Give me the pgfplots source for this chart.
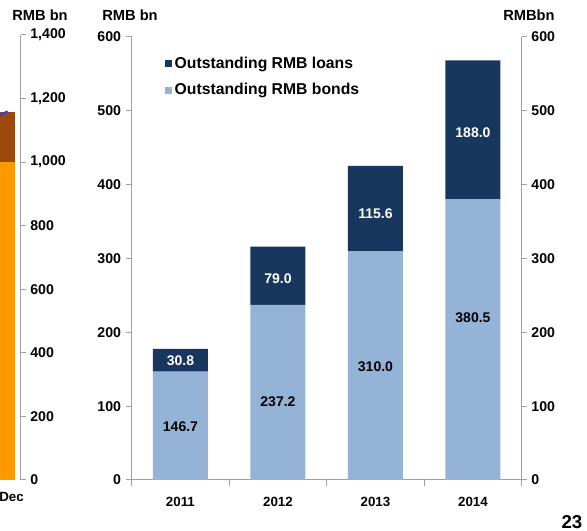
\documentclass[border=0pt]{standalone}
\usepackage{fontspec}
\setmainfont{Liberation Sans}
\usepackage{pgfplots}
\pgfplotsset{compat=1.18}
\definecolor{loan}{HTML}{17375E}
\definecolor{bond}{HTML}{95B3D7}
\definecolor{axgray}{HTML}{A0A0A0}
\definecolor{orng}{HTML}{FF9900}
\definecolor{brwn}{HTML}{9C4A0C}
\definecolor{lineblue}{HTML}{2A3FE0}
\pgfplotsset{
  common/.style={
    scale only axis,
    /pgf/number format/assume math mode=true,
    tick label style={font=\bfseries\fontsize{10}{12}\selectfont, text=black},
    y tick label style={font=\bfseries\fontsize{10.6}{12}\selectfont},
    axis line style={draw=axgray, line width=0.75pt},
    every tick/.style={draw=axgray, line width=0.75pt},
    tick align=outside,
    major tick length=3.75pt,
  },
}
\tikzset{dlab/.style={font=\bfseries\fontsize{10.5}{12}\selectfont}}
\begin{document}
\begin{tikzpicture}
\useasboundingbox (0,0) rectangle (440.25pt,398.25pt);
% partial chart on the left
\begin{axis}[common, at={(0pt,38.25pt)}, anchor=south west,
  width=15.5pt, height=333.75pt,
  xmin=-0.3, xmax=0.52, ymin=0, ymax=1400,
  ytick={0,200,...,1400},
  axis y line*=right, axis x line*=bottom,
  x axis line style={draw=none},
  xtick=\empty, extra x ticks={0}, extra x tick labels={Dec},
  extra x tick style={major tick length=0pt,
    tick label style={xshift=3pt, yshift=-6pt}},
  /pgf/number format/1000 sep={,},
]
\addplot[ybar, bar width=0.6, bar shift=0pt, fill=brwn, draw=none] coordinates {(0,1158)};
\addplot[ybar, bar width=0.6, bar shift=0pt, fill=orng, draw=none] coordinates {(0,1000)};
\addplot[lineblue, line width=1.5pt, no marks] coordinates {(-1,1120) (0,1160)};
\end{axis}
% main chart
\begin{axis}[common, at={(98.78pt,38.25pt)}, anchor=south west,
  width=292.5pt, height=332.25pt,
  ybar stacked, bar width=0.564,
  xmin=-0.5, xmax=3.5, ymin=0, ymax=600, ytick={0,100,...,600},
  axis y line*=left, axis x line*=bottom,
  xtick={-0.5,0.5,1.5,2.5,3.5}, xticklabels={2011,2012,2013,2014,{}},
  x tick label style={xshift=36.56pt, yshift=-4.5pt},
  major tick length=4.5pt,
  legend cell align=left,
  legend style={at={(0.085,0.962)}, anchor=north west, draw=none, fill=none,
    font=\bfseries\fontsize{11.8}{13}\selectfont, row sep=6pt, inner sep=0pt,
    nodes={inner xsep=2pt}},
  legend image code/.code={\fill[#1] (0pt,-2.6pt) rectangle (5.2pt,2.6pt);},
]
\addplot[fill=bond, draw=none, forget plot] coordinates {(0,146.7) (1,237.2) (2,310.0) (3,380.5)};
\addplot[fill=loan, draw=none, forget plot] coordinates {(0,30.8) (1,79.0) (2,115.6) (3,188.0)};
\addlegendimage{fill=loan, draw=none}
\addlegendentry{Outstanding RMB loans}
\addlegendimage{fill=bond, draw=none}
\addlegendentry{Outstanding RMB bonds}
\end{axis}
% right axis, with the value labels
\begin{axis}[common, at={(98.78pt,38.25pt)}, anchor=south west,
  width=292.5pt, height=332.25pt,
  xmin=-0.5, xmax=3.5, ymin=0, ymax=600, ytick={0,100,...,600},
  axis y line*=right, axis x line=none,
]
\addplot[draw=none] coordinates {(0,0)};
\node[dlab, text=black] at (axis cs:0,72) {146.7};
\node[dlab, text=white] at (axis cs:0,161.6) {30.8};
\node[dlab, text=black] at (axis cs:1,106.5) {237.2};
\node[dlab, text=white] at (axis cs:1,273) {79.0};
\node[dlab, text=black] at (axis cs:2,153) {310.0};
\node[dlab, text=white] at (axis cs:2,361) {115.6};
\node[dlab, text=black] at (axis cs:3,219.5) {380.5};
\node[dlab, text=white] at (axis cs:3,470) {188.0};
\end{axis}
\node[font=\bfseries\fontsize{11}{13}\selectfont] at (30pt,387pt) {RMB bn};
\node[font=\bfseries\fontsize{11}{13}\selectfont] at (97.5pt,387pt) {RMB bn};
\node[font=\bfseries\fontsize{11}{13}\selectfont] at (396.75pt,387pt) {RMBbn};
\node[font=\bfseries\fontsize{14}{16}\selectfont] at (429pt,6.75pt) {23};
\end{tikzpicture}
\end{document}
